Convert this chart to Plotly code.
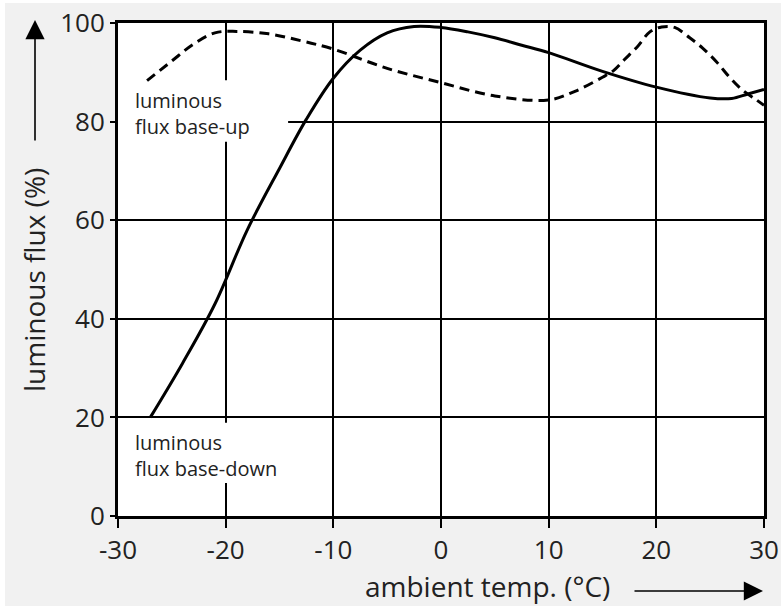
import plotly.graph_objects as go

# Ambient temperature (°C) vs. relative luminous flux (%)
temp_base_down = [-27, -24, -21, -18, -15, -12.5, -10, -7.5, -5,
                  -2.5, 0, 2.5, 5, 7.5, 10, 15, 20, 25, 27, 28.5, 30]
flux_base_down = [20, 31, 43, 58, 70.5, 80.5, 88.8, 94.5, 98,
                  99.3, 99.1, 98.2, 97, 95.5, 94, 90.2, 87, 84.8, 84.7, 85.6, 86.5]

temp_base_up = [-27.3, -25, -23, -21, -19, -16, -13, -10, -5, 0, 5, 10, 12.5,
                15, 16, 17, 18.2, 19.4, 20.5, 21.7, 23.1, 24.3, 25.6, 26.8, 28,
                29.3, 30]
flux_base_up = [88.3, 92.3, 95.7, 98, 98.3, 97.8, 96.4, 94.7, 90.8, 87.9, 85.2,
                84.4, 86.2, 89, 90.3, 92.5, 95.1, 98.2, 99.2, 99.1, 97, 94.9,
                92.1, 89, 86.4, 84.4, 83.3]

x_ticks = [-30, -20, -10, 0, 10, 20, 30]
x_tick_labels = ["-30", "-20", "-10", "0", "10", "20", "30"]
y_ticks = [0, 20, 40, 60, 80, 100]
y_tick_labels = ["0", "20", "40", "60", "80", "100"]

FONT = "Open Sans"
W, H = 781, 606
ML, MR, MT, MB = 118, 17, 23, 90
PW, PH = W - ML - MR, H - MT - MB


def px_to_paper(px, py):
    return (px - ML) / PW, (H - MB - py) / PH


fig = go.Figure()

fig.add_trace(go.Scatter(
    x=temp_base_up, y=flux_base_up, mode="lines",
    line=dict(color="black", width=3, dash="10px,6px", shape="spline", smoothing=1.0),
    showlegend=False, hoverinfo="skip",
))
fig.add_trace(go.Scatter(
    x=temp_base_down, y=flux_base_down, mode="lines",
    line=dict(color="black", width=3, shape="spline", smoothing=1.0),
    showlegend=False, hoverinfo="skip",
))

# white patches behind the curve labels, interrupting the grid
fig.add_shape(type="rect", xref="x", yref="y", x0=-30, x1=-14.2, y0=75.9, y1=88.4,
              fillcolor="white", line=dict(width=0), layer="between")
fig.add_shape(type="rect", xref="x", yref="y", x0=-30, x1=-13, y0=6.7, y1=18.9,
              fillcolor="white", line=dict(width=0), layer="between")

# thin white strips along the top and left edges of the canvas
x_left, y_top = px_to_paper(0, 0)
x_right, y_bot = px_to_paper(W, H)
fig.add_shape(type="rect", xref="paper", yref="paper", x0=x_left, x1=x_right,
              y0=px_to_paper(0, 3)[1], y1=y_top, fillcolor="white",
              line=dict(width=0), layer="above")
fig.add_shape(type="rect", xref="paper", yref="paper", x0=x_left, x1=px_to_paper(5, 0)[0],
              y0=y_bot, y1=y_top, fillcolor="white", line=dict(width=0), layer="above")

annotations = []
# curve labels
lx, ly = px_to_paper(133, 114)
annotations.append(dict(xref="paper", yref="paper", x=lx, y=ly, xanchor="left",
                        yanchor="middle", align="left", showarrow=False,
                        text="luminous<br>flux base-up",
                        font=dict(family=FONT, size=20, color="#222")))
lx, ly = px_to_paper(133, 455)
annotations.append(dict(xref="paper", yref="paper", x=lx, y=ly, xanchor="left",
                        yanchor="middle", align="left", showarrow=False,
                        text="luminous<br>flux base-down",
                        font=dict(family=FONT, size=20, color="#222")))
# axis titles
tx, ty = px_to_paper(488, 586)
annotations.append(dict(xref="paper", yref="paper", x=tx, y=ty, xanchor="center",
                        yanchor="middle", showarrow=False, text="ambient temp. (°C)",
                        font=dict(family=FONT, size=28, color="#222")))
tx, ty = px_to_paper(34, 280)
annotations.append(dict(xref="paper", yref="paper", x=tx, y=ty, xanchor="center",
                        yanchor="middle", showarrow=False, text="luminous flux (%)",
                        textangle=-90, font=dict(family=FONT, size=28, color="#222")))
# axis direction arrows
ax_tip = px_to_paper(35, 20)
annotations.append(dict(xref="paper", yref="paper", x=ax_tip[0], y=ax_tip[1], text="",
                        showarrow=True, ax=0, ay=122, arrowhead=2, arrowsize=2.4,
                        arrowwidth=1.6, arrowcolor="black"))
ax_tip = px_to_paper(763, 591)
annotations.append(dict(xref="paper", yref="paper", x=ax_tip[0], y=ax_tip[1], text="",
                        showarrow=True, ax=-130, ay=0, arrowhead=2, arrowsize=2.4,
                        arrowwidth=1.6, arrowcolor="black"))

axis_common = dict(
    showline=True, linecolor="black", linewidth=3, mirror=True,
    showgrid=True, gridcolor="black", gridwidth=1.5, zeroline=False,
    ticks="outside", tickcolor="black", tickwidth=2, automargin=False,
    tickfont=dict(family=FONT, size=26, color="#222"),
)

fig.update_xaxes(range=[-30, 30], tickvals=x_ticks, ticktext=x_tick_labels,
                 ticklen=9, **axis_common)
fig.update_yaxes(range=[0, 100], tickvals=y_ticks, ticktext=y_tick_labels,
                 ticklen=5, **axis_common)

fig.update_layout(
    width=W, height=H,
    margin=dict(l=ML, r=MR, t=MT, b=MB, pad=0, autoexpand=False),
    paper_bgcolor="#f1f1f1", plot_bgcolor="white",
    annotations=annotations,
    showlegend=False,
)

fig.write_html("out.html", config={"displayModeBar": False})
